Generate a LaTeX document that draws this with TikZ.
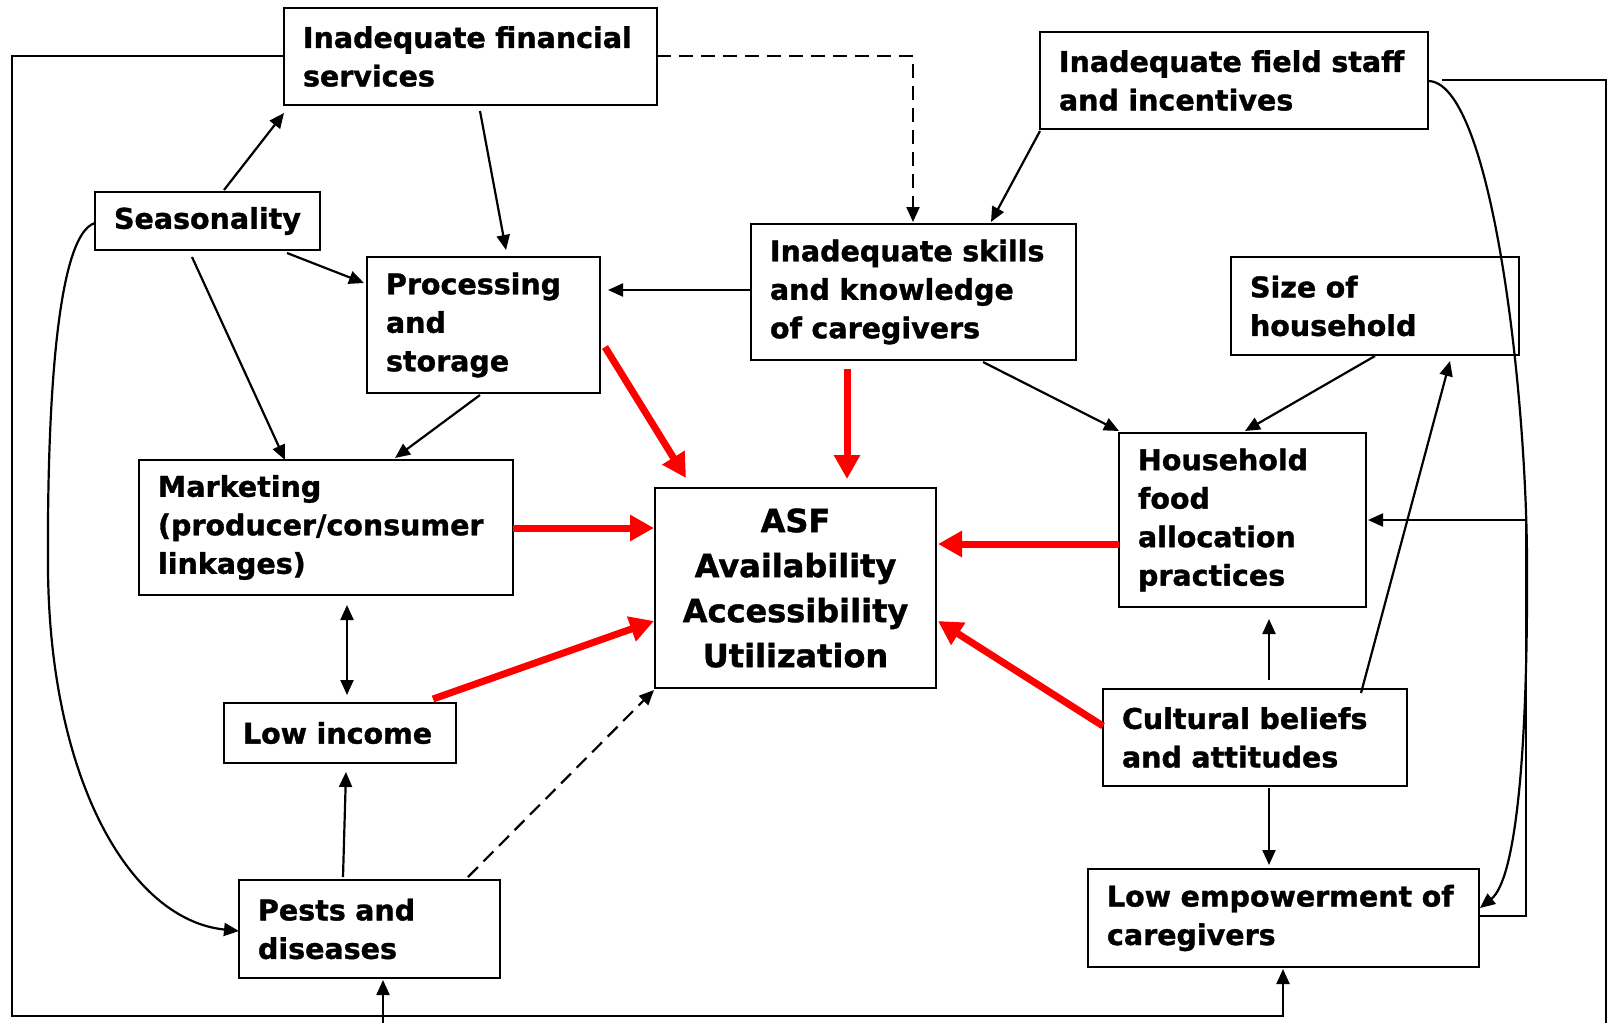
\documentclass[tikz,border=0pt]{standalone}
\usepackage{fontspec}
\setmainfont{DejaVu Sans}[BoldFeatures={FakeBold=1.2}]
\usetikzlibrary{arrows.meta,calc}
\begin{document}
\begin{tikzpicture}[x=1pt,y=-1pt,
  box/.style={draw, line width=2.2pt, outer sep=0pt, inner xsep=19pt, inner ysep=0pt,
    align=left, font=\fontsize{28.5pt}{38.5pt}\selectfont\bfseries},
  blk/.style={line width=2.2pt, -{Triangle[length=15pt,width=13pt]}},
  dsh/.style={blk, dash pattern=on 14pt off 8pt},
  rd/.style={line width=7pt, red, -{Triangle[length=24pt,width=25pt]}}]
\useasboundingbox[fill=white] (0,0) rectangle (1609,1023);

% boxes
\node[box, minimum width=373pt, minimum height=97pt, text width=335pt] (fin) at (470.5,56.5) {Inadequate financial\\services};
\node[box, minimum width=388pt, minimum height=97pt, text width=350pt] (field) at (1234,80.5) {Inadequate field staff\\and incentives};
\node[box, minimum width=225pt, minimum height=58pt, text width=187pt] (seas) at (207.5,221) {Seasonality};
\node[box, minimum width=233pt, minimum height=136pt, text width=195pt] (proc) at (483.5,325) {Processing\\and\\storage};
\node[box, minimum width=325pt, minimum height=136pt, text width=287pt] (skills) at (913.5,292) {Inadequate skills\\and knowledge\\of caregivers};
\node[box, minimum width=288pt, minimum height=98pt, text width=250pt] (size) at (1375,306) {Size of\\household};
\node[box, minimum width=374pt, minimum height=135pt, text width=336pt] (mkt) at (326,527.5) {Marketing\\(producer/consumer\\linkages)};
\node[box, minimum width=281pt, minimum height=200pt, text width=271pt, inner xsep=5pt, align=center,
  font=\fontsize{32pt}{45pt}\selectfont\bfseries] (asf) at (795.5,588) {ASF\\Availability\\Accessibility\\Utilization};
\node[box, minimum width=247pt, minimum height=174pt, text width=209pt] (hh) at (1242.5,520) {Household\\food\\allocation\\practices};
\node[box, minimum width=232pt, minimum height=60pt, text width=194pt] (inc) at (340,733) {Low income};
\node[box, minimum width=304pt, minimum height=97pt, text width=266pt] (cult) at (1255,737.5) {Cultural beliefs\\and attitudes};
\node[box, minimum width=261pt, minimum height=98pt, text width=223pt] (pests) at (369.5,929) {Pests and\\diseases};
\node[box, minimum width=391pt, minimum height=98pt, text width=353pt] (emp) at (1283.5,918) {Low empowerment of\\caregivers};

% free ends
\coordinate (botin) at (383,1023);
\coordinate (rbot) at (1606,1023);

% black connectors
\draw[blk] ($(seas.north west)+(129,-2)$) -- ($(fin.south west)+(0,8)$);
\draw[blk] ($(fin.south west)+(196,6)$) -- ($(proc.north west)+(139,-7)$);
\draw[blk] ($(seas.south east)+(-33,3)$) -- ($(proc.north west)+(-3,26)$);
\draw[blk] ($(seas.south west)+(97,7)$) -- ($(mkt.north west)+(146,0)$);
\draw[blk] ($(proc.south west)+(113,2)$) -- ($(mkt.north west)+(256,-2)$);
\draw[blk] ($(skills.north west)+(0,66)$) -- ($(proc.north east)+(8,33)$);
\draw[dsh] ($(fin.north east)+(0,48)$) -| ($(skills.north west)+(162,-2)$);
\draw[blk] ($(field.south west)+(0,2)$) -- ($(skills.north west)+(240,-2)$);
\draw[blk] ($(skills.south west)+(232,2)$) -- ($(hh.north west)+(0,-2)$);
\draw[blk] ($(size.south west)+(144,1)$) -- ($(hh.north west)+(126,-2)$);
\draw[blk] ($(cult.north west)+(258,4)$) -- ($(size.south west)+(219,6)$);
\draw[blk] ($(cult.north west)+(166,-9)$) -- ($(hh.south west)+(150,12)$);
\draw[blk] ($(cult.south west)+(166,2)$) -- ($(emp.north west)+(181,-4)$);
\draw[blk, {Triangle[length=15pt,width=13pt]}-{Triangle[length=15pt,width=13pt]}] ($(mkt.south west)+(208,10)$) -- ($(inc.north west)+(123,-8)$);
\draw[blk] ($(pests.north west)+(104,-3)$) -- ($(inc.south west)+(122,9)$);
\draw[dsh] ($(pests.north west)+(229,-3)$) -- ($(asf.south west)+(-1,2)$);

% red connectors
\draw[rd] ($(proc.north east)+(5,90)$) -- ($(asf.north west)+(31,-10)$);
\draw[rd] ($(skills.south west)+(96,9)$) -- ($(asf.north west)+(192,-9)$);
\draw[rd] ($(mkt.north east)+(0,68)$) -- ($(asf.north west)+(-1,40)$);
\draw[rd] ($(inc.north west)+(209,-4)$) -- ($(asf.north west)+(-1,133)$);
\draw[rd] ($(hh.north west)+(0,111)$) -- ($(asf.north east)+(2,56)$);
\draw[rd] ($(cult.north west)+(0,37)$) -- ($(asf.north east)+(2,133)$);

% loops
\draw[blk] ($(fin.north west)+(0,48)$) -| (12,1016) -| ($(emp.south west)+(195,2)$);
\draw[blk] (botin) -- ($(pests.south west)+(144,2)$);
\draw[line width=2.2pt] ($(field.north east)+(14,48)$) -| (rbot);
\draw[blk] ($(field.north east)+(0,49)$) .. controls (1490,81) and (1526,380) .. (1527,560)
   .. controls (1528,760) and (1515,880) .. ($(emp.north east)+(1,39)$);
\draw[blk] ($(emp.north east)+(0,47)$) -- ++(47,0) |- ($(hh.north east)+(2,87)$);
\draw[blk] ($(seas.north west)+(0,31)$) .. controls (55,235) and (47,420) .. (48,570)
   .. controls (50,780) and (130,920) .. ($(pests.north west)+(0,51)$);
\end{tikzpicture}
\end{document}
